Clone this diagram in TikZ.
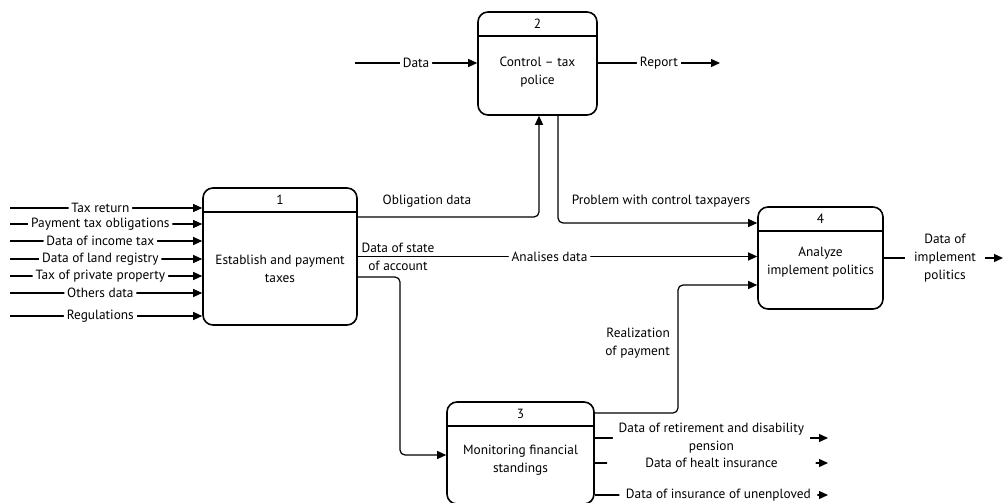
\documentclass[tikz,border=0pt]{standalone}
\usepackage{fontspec}
\setmainfont{PT Sans}
\usetikzlibrary{arrows.meta}

\begin{document}
\begin{tikzpicture}[x=1bp,y=-1bp,>={Triangle[length=9bp,width=8bp]},
  font=\fontsize{13.4}{18}\selectfont,
  every node/.style={inner sep=1bp},
  proc/.style={draw,line width=1.6bp,rounded corners=10bp},
  lbl/.style={fill=white,inner xsep=3bp,inner ysep=0bp},
  flow/.style={line width=1.2bp,rounded corners=5bp}]
  \clip (0,0) rectangle (1004,503);
  % processes
  \node[proc,minimum width=154bp,minimum height=137bp] (p1) at (280,256.5) {};
  \node[proc,minimum width=119bp,minimum height=103bp] (p2) at (537.5,63.5) {};
  \node[proc,minimum width=147bp,minimum height=102bp] (p3) at (520.5,453) {};
  \node[proc,minimum width=125bp,minimum height=102bp] (p4) at (820.5,258) {};
  \foreach \p/\n in {p1/1,p2/2,p3/3,p4/4} {
    \draw[line width=1.6bp] ([yshift=-25bp]\p.north west) -- ([yshift=-25bp]\p.north east);
    \node at ([yshift=-12.5bp]\p.north) {\n};
  }
  \node[align=center] at (280,269) {Establish and payment\\taxes};
  \node[align=center] at (537.5,72) {Control -- tax\\police};
  \node[align=center] at (520.5,460) {Monitoring financial\\standings};
  \node[align=center] at (820.5,262) {Analyze\\implement politics};

  % inputs of 1
  \foreach \y/\txt [count=\i] in {208/Tax return,224/Payment tax obligations,
      241/Data of income tax,259/Data of land registry,276/Tax of private property,
      293/Others data,316/Regulations} {
    \coordinate (in\i) at (10,\y);
    \draw[->,flow] (in\i) -- node[lbl,pos=0.47]{\txt} (p1.west |- in\i);
  }

  % flows of 2
  \coordinate (din) at (355,63);
  \draw[->,flow] (din) -- node[lbl]{Data} (p2.west |- din);
  \coordinate (rep) at (720,63);
  \draw[->,flow] (p2.east |- rep) -- node[lbl]{Report} (rep);

  % 1 -> 2, 2 -> 4
  \coordinate (b12) at (539,217);
  \draw[->,flow] (p1.east |- b12) -- (b12) -- (p2.south -| b12);
  \node at (427,201) {Obligation data};
  \coordinate (b24) at (558,223);
  \draw[->,flow] (p2.south -| b24) -- (b24) -- (p4.west |- b24);
  \node at (661,201) {Problem with control taxpayers};

  % 1 -> 4, 1 -> 3
  \draw[->,flow] (p1.east) -- node[lbl,pos=0.48]{Analises data} (p4.west |- p1.east);
  \node[align=center] at (398,257) {Data of state\\of account};
  \coordinate (b13) at (400,455);
  \draw[->,flow] ([yshift=-20.5bp]p1.east) -| (b13) -- (p3.west |- b13);

  % 3 -> 4
  \coordinate (b34) at (678,285);
  \draw[->,flow] ([yshift=40bp]p3.east) -| (b34) -- (p4.west |- b34);
  \node[align=right,anchor=east] at (671,343) {Realization\\of payment};

  % output of 4
  \node[align=center,inner xsep=9bp] (o4) at (945,258) {Data of\\implement\\politics};
  \coordinate (e4) at (1003,258);
  \draw[flow] (p4.east) -- (o4.west);
  \draw[->,flow] (o4.east) -- (e4);

  % outputs of 3
  \coordinate (e31) at (828,438);
  \draw[->,flow] (p3.east |- e31) -- node[lbl,minimum width=197bp,align=center]
    {Data of retirement and disability\\pension} (e31);
  \coordinate (e32) at (828,463);
  \draw[->,flow] (p3.east |- e32) -- node[lbl,minimum width=209bp]{Data of healt insurance} (e32);
  \coordinate (e33) at (828,495);
  \draw[->,flow] (p3.east |- e33) -- node[lbl,pos=0.53,minimum width=198bp]
    {Data of insurance of unenploved} (e33);
\end{tikzpicture}
\end{document}
